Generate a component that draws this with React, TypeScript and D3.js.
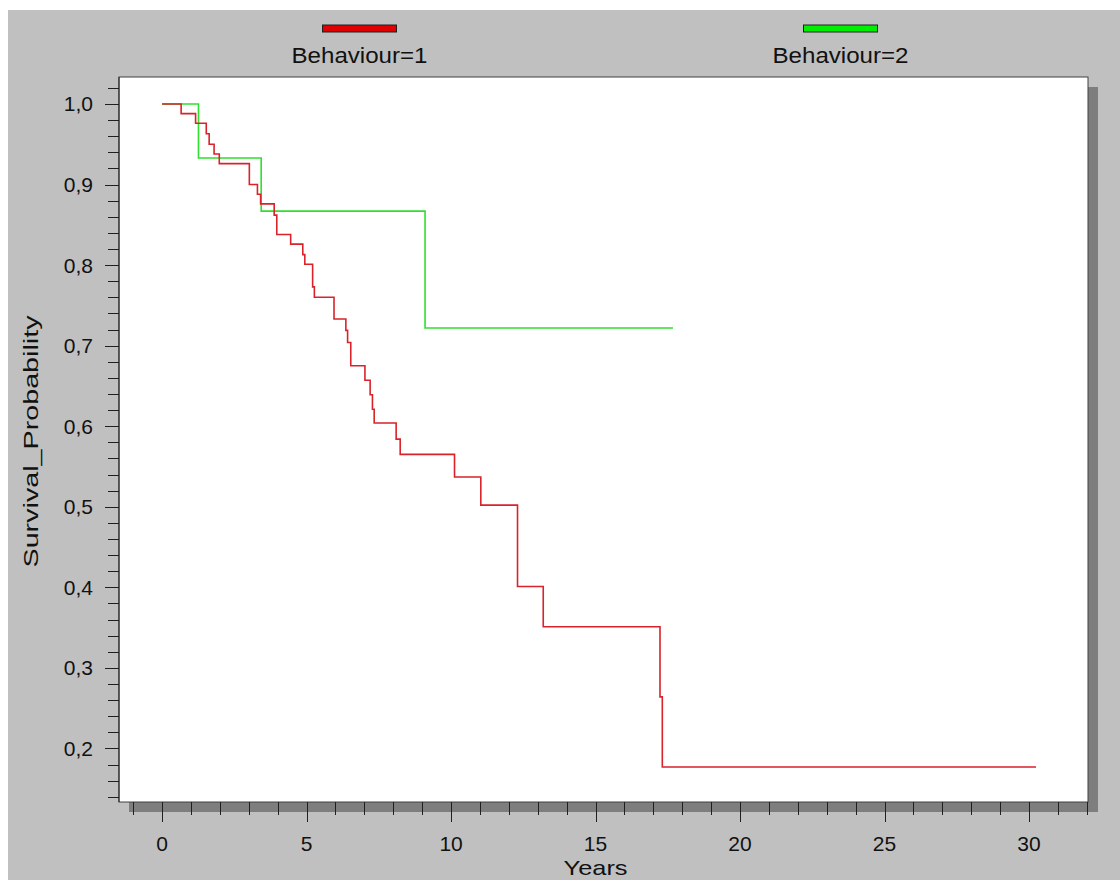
import React from 'react';
import * as d3 from 'd3';

// Behaviour=1 (red) Kaplan-Meier steps: time in years, survival after the step
const redTimes = [0, 0.66, 1.16, 1.53, 1.63, 1.8, 1.98, 3.02, 3.3, 3.41, 3.88, 3.97, 4.45, 4.87, 4.94, 5.21, 5.27, 5.95, 6.36, 6.42, 6.53, 7.02, 7.2, 7.28, 7.34, 8.1, 8.24, 10.12, 11.03, 12.3, 13.19, 17.23, 17.31, 30.24];
const redSurv = [1.0, 0.988, 0.976, 0.963, 0.95, 0.938, 0.926, 0.9, 0.888, 0.876, 0.862, 0.838, 0.826, 0.813, 0.801, 0.773, 0.76, 0.733, 0.719, 0.704, 0.675, 0.657, 0.639, 0.621, 0.604, 0.584, 0.565, 0.537, 0.502, 0.401, 0.351, 0.264, 0.177, 0.177];

// Behaviour=2 (green)
const greenTimes = [0, 1.26, 3.43, 9.1, 17.68];
const greenSurv = [1.0, 0.933, 0.867, 0.722, 0.722];

const seriesNames = ['Behaviour=1', 'Behaviour=2'];
const seriesColors = ['#d8232a', '#2ee02e'];
const swatchColors = ['#e00000', '#00ee00'];

const xMajor = [0, 5, 10, 15, 20, 25, 30];
const xMajorLabels = ['0', '5', '10', '15', '20', '25', '30'];
const yMajor = [0.2, 0.3, 0.4, 0.5, 0.6, 0.7, 0.8, 0.9, 1.0];
const yMajorLabels = ['0,2', '0,3', '0,4', '0,5', '0,6', '0,7', '0,8', '0,9', '1,0'];

const FONT = '"Liberation Sans", Arial, sans-serif';

export default function App() {
  const left = 119, right = 1088, top = 77, bottom = 802;
  const x = d3.scaleLinear().domain([-1.49, 32.04]).range([left, right]);
  const y = d3.scaleLinear().domain([0.1335, 1.0335]).range([bottom, top]);

  const line = d3
    .line<[number, number]>()
    .x((d) => x(d[0]))
    .y((d) => y(d[1]))
    .curve(d3.curveStepAfter);

  const red = line(redTimes.map((t, i) => [t, redSurv[i]]));
  const green = line(greenTimes.map((t, i) => [t, greenSurv[i]]));

  const xMinor = d3.range(-1, 33).filter((v) => v % 5 !== 0);
  const yMinor = d3.range(7, 52).map((v) => v * 0.02).filter((v) => Math.abs(v * 10 - Math.round(v * 10)) > 0.01);

  const legendX = [359.5, 840.5];

  return (
    <svg width={1120} height={880} style={{ position: 'absolute', left: 0, top: 0 }} fontFamily={FONT}>
      <rect x={0} y={0} width={1120} height={880} fill="#ffffff" />
      <rect x={8} y={10} width={1112} height={870} fill="#c0c0c0" />

      {/* legend */}
      {seriesNames.map((name, i) => (
        <g key={name}>
          <rect x={legendX[i] - 37} y={25} width={74} height={7} fill={swatchColors[i]} stroke="#202020" strokeWidth={1} />
          <text x={legendX[i]} y={63} textAnchor="middle" fontSize={22} fill="#111" textLength={136} lengthAdjust="spacingAndGlyphs">
            {name}
          </text>
        </g>
      ))}

      {/* shadow + plot area */}
      <rect x={left + 10} y={top + 10} width={right - left} height={bottom - top} fill="#7e7e7e" />
      <rect x={left} y={top} width={right - left} height={bottom - top} fill="#ffffff" stroke="#404040" strokeWidth={1} />

      {/* curves */}
      <path d={green ?? ''} fill="none" stroke={seriesColors[1]} strokeWidth={1.6} />
      <path d={red ?? ''} fill="none" stroke={seriesColors[0]} strokeWidth={1.6} />

      {/* y axis */}
      <line x1={left} x2={left} y1={top} y2={bottom} stroke="#202020" />
      {yMinor.map((v) => (
        <line key={'ym' + v} x1={left - 11} x2={left} y1={Math.round(y(v)) + 0.5} y2={Math.round(y(v)) + 0.5} stroke="#202020" />
      ))}
      {yMajor.map((v, i) => (
        <g key={'yM' + v}>
          <line x1={left - 14} x2={left} y1={Math.round(y(v)) + 0.5} y2={Math.round(y(v)) + 0.5} stroke="#202020" />
          <text x={93} y={y(v) + 7.5} textAnchor="end" fontSize={21} fill="#111">
            {yMajorLabels[i]}
          </text>
        </g>
      ))}
      <text transform={`translate(38, ${(top + bottom) / 2 + 2}) rotate(-90)`} textAnchor="middle" fontSize={21} fill="#111" textLength={252} lengthAdjust="spacingAndGlyphs">
        Survival_Probability
      </text>

      {/* x axis */}
      {xMinor.map((v) => (
        <line key={'xm' + v} x1={Math.round(x(v)) + 0.5} x2={Math.round(x(v)) + 0.5} y1={bottom} y2={bottom + 13} stroke="#202020" />
      ))}
      {xMajor.map((v, i) => (
        <g key={'xM' + v}>
          <line x1={Math.round(x(v)) + 0.5} x2={Math.round(x(v)) + 0.5} y1={bottom} y2={bottom + 20} stroke="#202020" />
          <text x={x(v)} y={851} textAnchor="middle" fontSize={21} fill="#111">
            {xMajorLabels[i]}
          </text>
        </g>
      ))}
      <text x={x(15)} y={875} textAnchor="middle" fontSize={21} fill="#111" textLength={64} lengthAdjust="spacingAndGlyphs">
        Years
      </text>
    </svg>
  );
}
